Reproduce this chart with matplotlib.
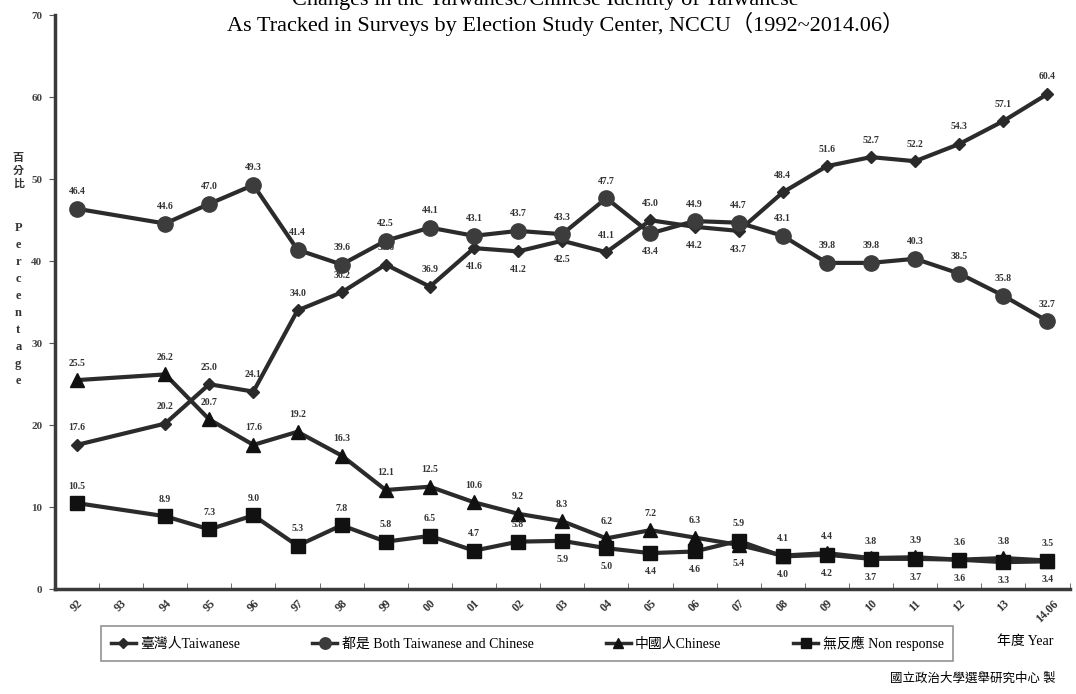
import numpy as np
import matplotlib.pyplot as plt
from matplotlib.lines import Line2D

plt.rcParams['font.family'] = ['Liberation Serif', 'Noto Sans CJK TC']

# categories on the x axis (93 has no survey point)
categories = ['92', '93', '94', '95', '96', '97', '98', '99', '00', '01', '02',
              '03', '04', '05', '06', '07', '08', '09', '10', '11', '12', '13', '14.06']
years = ['92', '94', '95', '96', '97', '98', '99', '00', '01', '02',
         '03', '04', '05', '06', '07', '08', '09', '10', '11', '12', '13', '14.06']

taiwanese = [17.6, 20.2, 25.0, 24.1, 34.0, 36.2, 39.6, 36.9, 41.6, 41.2, 42.5,
             41.1, 45.0, 44.2, 43.7, 48.4, 51.6, 52.7, 52.2, 54.3, 57.1, 60.4]
both = [46.4, 44.6, 47.0, 49.3, 41.4, 39.6, 42.5, 44.1, 43.1, 43.7, 43.3,
        47.7, 43.4, 44.9, 44.7, 43.1, 39.8, 39.8, 40.3, 38.5, 35.8, 32.7]
chinese = [25.5, 26.2, 20.7, 17.6, 19.2, 16.3, 12.1, 12.5, 10.6, 9.2, 8.3,
           6.2, 7.2, 6.3, 5.4, 4.1, 4.4, 3.8, 3.9, 3.6, 3.8, 3.5]
nonresp = [10.5, 8.9, 7.3, 9.0, 5.3, 7.8, 5.8, 6.5, 4.7, 5.8, 5.9,
           5.0, 4.4, 4.6, 5.9, 4.0, 4.2, 3.7, 3.7, 3.6, 3.3, 3.4]

# which side of the marker each value label sits on (1 above, -1 below)
tw_side = [1, 1, 1, 1, 1, 1, 1, 1, -1, -1, -1, 1, 1, -1, -1, 1, 1, 1, 1, 1, 1, 1]
both_side = [1] * 12 + [-1] + [1] * 9
cn_side = [1] * 14 + [-1] + [1] * 7
nr_side = [1] * 10 + [-1] * 4 + [1] + [-1] * 7

x = np.array([categories.index(y) for y in years])

fig = plt.figure(figsize=(10.76, 6.94), dpi=100)
ax = fig.add_axes([0.051, 0.151, 0.943, 0.827])

series = [
    (taiwanese, tw_side, 'D', 6.5, '#2a2a2a', '臺灣人Taiwanese'),
    (both, both_side, 'o', 11, '#3c3c3c', '都是 Both Taiwanese and Chinese'),
    (chinese, cn_side, '^', 9.5, '#111111', '中國人Chinese'),
    (nonresp, nr_side, 's', 10, '#111111', '無反應 Non response'),
]

for vals, sides, mk, ms, col, lab in series:
    ax.plot(x, vals, color='#2b2b2b', lw=3, marker=mk, ms=ms,
            mfc=col, mec=col, label=lab, zorder=3)
    for xi, v, s in zip(x, vals, sides):
        ax.annotate(f'{v:.1f}', (xi, v), xytext=(0, 9 if s > 0 else -10),
                    textcoords='offset points', ha='center',
                    va='bottom' if s > 0 else 'top',
                    fontsize=7, fontweight='bold', color='#333333')

ax.set_xlim(-0.5, len(categories) - 0.5)
ax.set_ylim(0, 70)
ax.set_yticks(range(0, 71, 10))
ax.set_yticklabels([str(v) for v in range(0, 71, 10)], fontsize=8,
                   fontweight='bold', color='#444444')
ax.set_xticks(range(len(categories)))
ax.set_xticklabels(categories, rotation=45, fontsize=8.5, fontweight='bold',
                   color='#333333')
ax.set_xticks(np.arange(-0.5, len(categories), 1), minor=True)
ax.tick_params(axis='x', which='major', length=0, pad=6)
ax.tick_params(axis='x', which='minor', direction='in', length=4,
               color='#555555')
ax.tick_params(axis='y', length=4, color='#555555', pad=5)
for sp in ['top', 'right']:
    ax.spines[sp].set_visible(False)
for sp in ['left', 'bottom']:
    ax.spines[sp].set_linewidth(2.5)
    ax.spines[sp].set_color('#3a3a3a')

# stacked vertical y label
for i, ch in enumerate(['百', '分', '比']):
    fig.text(0.017, 1 - (158 + i * 13) / 694, ch, ha='center', va='center',
             fontsize=8, fontweight='bold', color='#333333')
for i, ch in enumerate('Percentage'):
    fig.text(0.017, 1 - (228 + i * 17) / 694, ch, ha='center', va='center',
             fontsize=9, fontweight='bold', color='#333333')

fig.text(0.507, 1.0, 'Changes in the Taiwanese/Chinese Identity of Taiwanese',
         ha='center', va='center', fontsize=16)
fig.text(0.526, 0.965, 'As Tracked in Surveys by Election Study Center, NCCU（1992~2014.06）',
         ha='center', va='center', fontsize=16)

handles = [Line2D([], [], color='#2b2b2b', lw=2.5, marker=mk, ms=ms * 0.75,
                  mfc=col, mec=col) for _, _, mk, ms, col, _ in series]
leg = fig.legend(handles, [s[5] for s in series], loc='center',
                 bbox_to_anchor=(0.49, 0.073), ncol=4, fontsize=10,
                 frameon=True, fancybox=False, edgecolor='#777777',
                 handlelength=1.8, handletextpad=0.3, columnspacing=5.2,
                 borderpad=0.7, borderaxespad=0)
leg.get_frame().set_linewidth(1.2)

fig.text(0.953, 0.075, '年度 Year', ha='center', va='center', fontsize=10)
fig.text(0.904, 0.022, '國立政治大學選舉研究中心 製', ha='center', va='center',
         fontsize=9)

fig.savefig('out.png', dpi=100)
